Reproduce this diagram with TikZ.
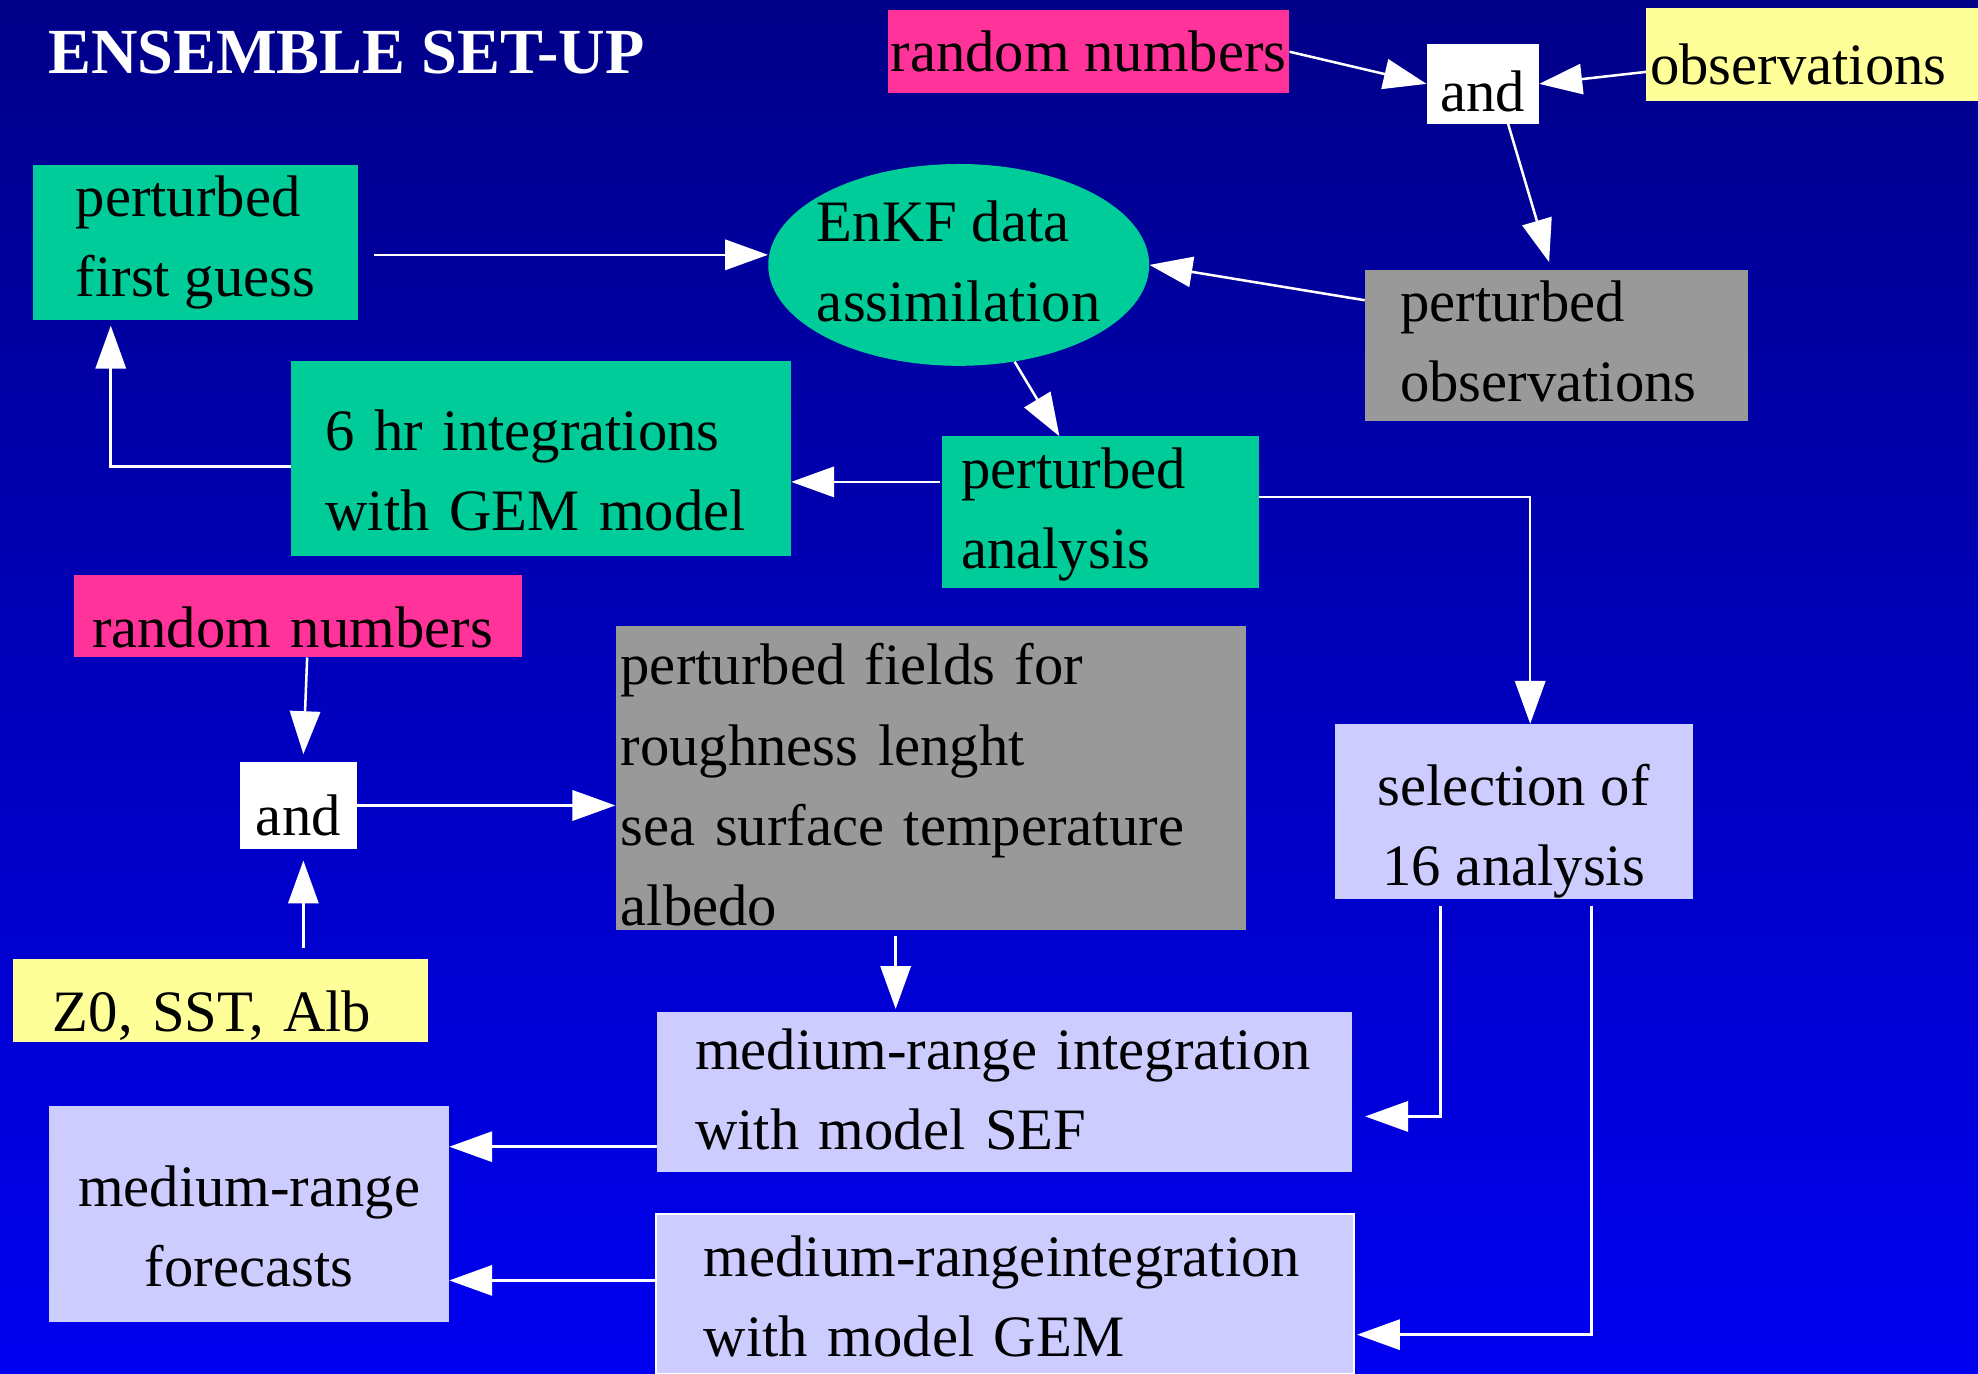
\documentclass[tikz,border=0pt]{standalone}
\usepackage{fontspec}
\setmainfont{Liberation Serif}
\usetikzlibrary{arrows.meta,calc,shapes.geometric}
\definecolor{bgtop}{RGB}{0,0,136}
\definecolor{bgbot}{RGB}{0,0,240}
\definecolor{cteal}{HTML}{00CC99}
\definecolor{cpink}{HTML}{FF3399}
\definecolor{cyellow}{HTML}{FFFF99}
\definecolor{cgray}{HTML}{999999}
\definecolor{clav}{HTML}{CCCCFF}
\begin{document}
\begin{tikzpicture}[x=1pt,y=-1pt,
  box/.style={rectangle, inner sep=0pt, font=\fontsize{46.5}{63.5}\selectfont, text=black},
  conn/.style={draw=white, line width=2pt},
  arr/.style={conn, -{Triangle[length=34pt,width=24pt]}}]
\fill[top color=bgtop,bottom color=bgbot] (0,0) rectangle (1568,1089);
\useasboundingbox (0,0) rectangle (1568,1089);

\node[anchor=base west, text=white, inner sep=0pt, font=\bfseries\fontsize{51}{60}\selectfont] (title) at (38,58) {ENSEMBLE SET-UP};

\node[box, fill=cpink, minimum width=318pt, minimum height=66pt, text height=32pt, text depth=0pt] (rn1) at (863,41) {random numbers};
\node[box, fill=white, minimum width=89pt, minimum height=63pt, text height=43pt, text depth=0pt] (and1) at (1175.5,66.5) {and};
\node[box, fill=cyellow, minimum width=263pt, minimum height=74pt, text width=257pt, align=left, text height=48pt, text depth=0pt] (obs) at (1436.5,43) {observations};

\node[box, fill=cgray, minimum width=304pt, minimum height=120pt, text width=248pt, align=left, text height=32pt, text depth=70pt] (pobs) at (1234,274) {perturbed\\observations};

\node[ellipse, fill=cteal, minimum width=302pt, minimum height=160pt, inner sep=0pt,
  label={[name=enkftext, box, align=left, text height=90pt, text depth=0pt]center:EnKF data\\assimilation}] (enkf) at (760,210) {};

\node[box, fill=cteal, minimum width=258pt, minimum height=123pt, align=left, text height=85pt, text depth=0pt] (pfg) at (155,192.5) {perturbed\\first guess};

\node[box, fill=cteal, minimum width=396pt, minimum height=155pt, text width=342pt, align=left, text height=32pt, text depth=45pt] (six) at (429,363.5) {6 hr integrations\\with GEM model};

\node[box, fill=cteal, minimum width=251pt, minimum height=120pt, text width=221pt, align=left, text height=32pt, text depth=70pt] (pan) at (872.5,406) {perturbed\\analysis};

\node[box, fill=clav, minimum width=284pt, minimum height=139pt, align=center, text height=117pt, text depth=0pt] (sel) at (1200,643.5) {selection of\\16 analysis};

\node[box, fill=cpink, minimum width=355pt, minimum height=65pt, text width=327pt, align=left, text height=49pt, text depth=0pt] (rn2) at (236.5,488.5) {random numbers};
\node[box, fill=white, minimum width=93pt, minimum height=69pt, text height=47pt, text depth=0pt] (and2) at (236.5,638.5) {and};
\node[box, fill=cyellow, minimum width=329pt, minimum height=66pt, text width=265pt, align=left, text height=50pt, text depth=0pt] (z0) at (174.5,793) {Z0, SST, Alb};

\node[box, fill=cgray, minimum width=500pt, minimum height=241pt, text width=492pt, align=left, text height=32pt, text depth=179pt] (pff) at (738,616.5) {perturbed fields for\\roughness lenght\\sea surface temperature\\albedo};

\node[box, fill=clav, minimum width=551pt, minimum height=127pt, text width=491pt, align=left, text height=32pt, text depth=67pt] (sef) at (796.5,865.5) {medium-range integration\\with model SEF};
\node[box, fill=clav, draw=white, line width=1.5pt, minimum width=553pt, minimum height=127pt, text width=477pt, align=left, text height=32pt, text depth=59pt] (gem) at (796.5,1025.5) {medium-rangeintegration\\with model GEM};

\node[box, fill=clav, minimum width=317pt, minimum height=171pt, align=center, text height=115pt, text depth=0pt] (fc) at (197.5,962.5) {medium-range\\forecasts};

% connectors
\draw[arr] (rn1.east) -- (and1.west);
\draw[arr] ($(obs.west)+(0,14)$) -- (and1.east);
\draw[arr] ($(and1.south)+(20,0)$) -- ($(pobs.north)+(-6,-6)$);
\draw[arr] ($(pobs.west)+(0,-36)$) -- (enkf.east);
\draw[arr] (enkf.-60) -- ($(pan.north west)+(93,0)$);
\coordinate (p1) at ($(pan.west)+(-2,-24)$);
\draw[arr] (p1) -- (p1 -| six.east);
\coordinate (p2) at ($(pan.east)+(0,-12)$);
\draw[arr] (p2) -| ($(sel.north)+(13,0)$);
\coordinate (p3) at ($(six.west)+(0,6.5)$);
\draw[arr] (p3) -| ($(pfg.south west)+(62,4)$);
\coordinate (p4) at ($(pfg.east)+(12,9.5)$);
\draw[arr] (p4) -- (p4 -| enkf.west);
\draw[arr] ($(rn2.south)+(7,0)$) -- ($(and2.north)+(4,-6)$);
\coordinate (p5) at ($(and2.south)+(4,9)$);
\coordinate (p6) at (p5 |- z0.north);
\draw[arr] ($(p6)+(0,-8)$) -- (p5);
\draw[arr] (and2.east) -- (and2.east -| pff.west);
\draw[arr] ($(pff.south)+(-28,5)$) -- ($(sef.north)+(-86.5,-2)$);
\draw[arr] ($(sel.south west)+(84,5)$) |- ($(sef.east)+(10,19.5)$);
\draw[arr] ($(sel.south west)+(204,5)$) |- ($(gem.east)+(2,32.5)$);
\coordinate (p7) at ($(sef.west)+(0,43.5)$);
\draw[arr] (p7) -- (p7 -| fc.east);
\coordinate (p8) at ($(gem.west)+(0,-10.5)$);
\draw[arr] (p8) -- (p8 -| fc.east);
\end{tikzpicture}
\end{document}
